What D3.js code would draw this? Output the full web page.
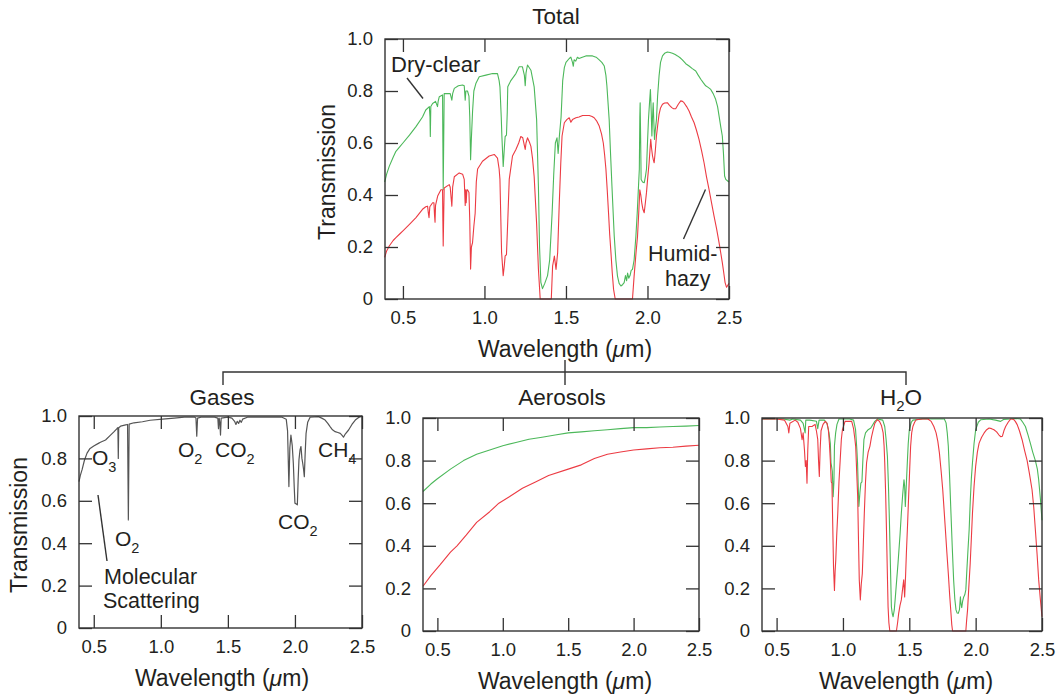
<!DOCTYPE html>
<html>
<head>
<meta charset="utf-8">
<script src="https://cdn.jsdelivr.net/npm/d3@7"></script>
<style>
  body { margin: 0; background: #fff; }
  svg { display: block; font-family: "Liberation Sans", Arial, Helvetica, sans-serif; }
  .tick text { font-size: 18.5px; fill: #231f20; }
  .tick line { stroke: #333; stroke-width: 1.3; }
  .lbl { fill: #231f20; }
</style>
</head>
<body>
<svg id="chart" width="1063" height="694"></svg>
<script>
// tick labels
var xTicks = [0.5, 1.0, 1.5, 2.0, 2.5];
var yTicks = [0, 0.2, 0.4, 0.6, 0.8, 1.0];

// Total: dry-clear (green) and humid-hazy (red), [wavelength um, transmission]
var totalDryClear = [[0.388,0.45],[0.40,0.48],[0.416,0.51],[0.44,0.545],[0.457,0.568],[0.48,0.585],[0.50,0.60],[0.54,0.63],[0.58,0.663],[0.62,0.70],[0.64,0.727],[0.662,0.74],[0.666,0.70],[0.668,0.625],[0.671,0.74],[0.682,0.752],[0.70,0.76],[0.712,0.74],[0.716,0.76],[0.723,0.778],[0.743,0.785],[0.745,0.60],[0.747,0.42],[0.750,0.60],[0.753,0.79],[0.764,0.79],[0.79,0.79],[0.80,0.765],[0.805,0.79],[0.815,0.81],[0.84,0.82],[0.866,0.823],[0.876,0.82],[0.882,0.765],[0.886,0.80],[0.896,0.80],[0.905,0.78],[0.91,0.70],[0.915,0.536],[0.92,0.62],[0.927,0.72],[0.935,0.80],[0.948,0.83],[0.968,0.855],[1.009,0.861],[1.05,0.867],[1.08,0.867],[1.09,0.84],[1.095,0.816],[1.103,0.70],[1.107,0.625],[1.115,0.51],[1.122,0.58],[1.127,0.625],[1.135,0.63],[1.14,0.72],[1.143,0.816],[1.162,0.84],[1.193,0.867],[1.213,0.893],[1.233,0.893],[1.245,0.86],[1.25,0.82],[1.255,0.87],[1.264,0.90],[1.285,0.88],[1.305,0.816],[1.32,0.69],[1.331,0.434],[1.338,0.20],[1.346,0.064],[1.356,0.04],[1.37,0.06],[1.387,0.09],[1.40,0.15],[1.415,0.33],[1.425,0.48],[1.435,0.60],[1.445,0.62],[1.452,0.56],[1.46,0.63],[1.47,0.70],[1.48,0.84],[1.49,0.89],[1.50,0.91],[1.52,0.925],[1.53,0.93],[1.54,0.91],[1.545,0.895],[1.55,0.92],[1.56,0.915],[1.57,0.93],[1.58,0.925],[1.60,0.93],[1.622,0.935],[1.663,0.935],[1.685,0.93],[1.704,0.92],[1.72,0.91],[1.735,0.896],[1.745,0.86],[1.751,0.82],[1.765,0.69],[1.772,0.58],[1.782,0.435],[1.796,0.242],[1.806,0.15],[1.816,0.088],[1.826,0.06],[1.837,0.05],[1.847,0.055],[1.857,0.063],[1.865,0.09],[1.872,0.07],[1.878,0.10],[1.885,0.08],[1.893,0.09],[1.90,0.11],[1.908,0.114],[1.918,0.15],[1.929,0.242],[1.937,0.33],[1.945,0.435],[1.95,0.50],[1.953,0.70],[1.955,0.755],[1.958,0.62],[1.961,0.46],[1.97,0.45],[1.98,0.447],[1.987,0.47],[1.994,0.50],[2.0,0.60],[2.006,0.69],[2.012,0.75],[2.018,0.806],[2.023,0.72],[2.027,0.627],[2.031,0.70],[2.035,0.755],[2.039,0.68],[2.043,0.614],[2.048,0.65],[2.055,0.69],[2.062,0.78],[2.071,0.858],[2.08,0.91],[2.092,0.935],[2.105,0.945],[2.122,0.95],[2.138,0.948],[2.153,0.945],[2.17,0.94],[2.184,0.935],[2.20,0.928],[2.214,0.92],[2.235,0.905],[2.255,0.896],[2.275,0.886],[2.296,0.877],[2.31,0.862],[2.327,0.845],[2.342,0.832],[2.357,0.82],[2.372,0.814],[2.388,0.806],[2.403,0.79],[2.418,0.768],[2.43,0.74],[2.439,0.704],[2.45,0.66],[2.459,0.627],[2.466,0.56],[2.473,0.473],[2.48,0.46],[2.49,0.455],[2.50,0.45]];
var totalHumidHazy = [[0.388,0.16],[0.40,0.185],[0.416,0.204],[0.44,0.225],[0.457,0.236],[0.48,0.25],[0.50,0.262],[0.54,0.287],[0.58,0.313],[0.62,0.345],[0.64,0.355],[0.651,0.357],[0.656,0.33],[0.66,0.313],[0.665,0.355],[0.682,0.37],[0.69,0.37],[0.694,0.32],[0.697,0.295],[0.70,0.36],[0.713,0.396],[0.733,0.42],[0.743,0.42],[0.745,0.30],[0.747,0.204],[0.750,0.32],[0.753,0.427],[0.784,0.44],[0.79,0.43],[0.80,0.357],[0.805,0.43],[0.815,0.47],[0.845,0.485],[0.866,0.48],[0.876,0.46],[0.882,0.36],[0.884,0.42],[0.888,0.37],[0.892,0.42],[0.896,0.42],[0.905,0.41],[0.91,0.30],[0.915,0.115],[0.92,0.20],[0.927,0.217],[0.935,0.28],[0.943,0.33],[0.95,0.45],[0.958,0.50],[0.988,0.53],[1.029,0.55],[1.06,0.556],[1.08,0.542],[1.09,0.50],[1.095,0.46],[1.10,0.32],[1.105,0.18],[1.115,0.09],[1.122,0.13],[1.127,0.166],[1.135,0.17],[1.143,0.30],[1.152,0.46],[1.172,0.55],[1.193,0.575],[1.21,0.60],[1.223,0.625],[1.235,0.62],[1.245,0.59],[1.25,0.575],[1.255,0.60],[1.264,0.62],[1.275,0.605],[1.285,0.587],[1.295,0.54],[1.305,0.47],[1.32,0.29],[1.331,0.115],[1.342,0.0],[1.41,0.0],[1.418,0.127],[1.429,0.165],[1.439,0.114],[1.449,0.178],[1.459,0.37],[1.468,0.52],[1.476,0.627],[1.49,0.678],[1.505,0.69],[1.52,0.697],[1.53,0.68],[1.54,0.69],[1.561,0.697],[1.58,0.70],[1.602,0.706],[1.643,0.706],[1.66,0.702],[1.673,0.697],[1.69,0.683],[1.704,0.665],[1.718,0.635],[1.729,0.60],[1.737,0.555],[1.745,0.50],[1.753,0.42],[1.761,0.332],[1.768,0.25],[1.776,0.178],[1.784,0.10],[1.792,0.037],[1.802,0.0],[1.908,0.0],[1.918,0.088],[1.93,0.18],[1.939,0.242],[1.947,0.34],[1.953,0.42],[1.959,0.40],[1.965,0.37],[1.972,0.345],[1.98,0.332],[1.987,0.37],[1.994,0.41],[2.002,0.47],[2.01,0.524],[2.015,0.57],[2.02,0.614],[2.025,0.58],[2.031,0.55],[2.036,0.535],[2.041,0.524],[2.048,0.57],[2.055,0.627],[2.063,0.67],[2.071,0.71],[2.08,0.735],[2.092,0.749],[2.105,0.754],[2.122,0.755],[2.135,0.745],[2.149,0.736],[2.16,0.732],[2.173,0.732],[2.19,0.75],[2.204,0.762],[2.215,0.76],[2.224,0.755],[2.24,0.74],[2.255,0.723],[2.27,0.70],[2.286,0.678],[2.30,0.65],[2.316,0.614],[2.332,0.57],[2.347,0.524],[2.362,0.47],[2.378,0.42],[2.393,0.37],[2.408,0.32],[2.424,0.27],[2.439,0.217],[2.45,0.175],[2.459,0.14],[2.468,0.10],[2.476,0.063],[2.485,0.045],[2.50,0.06]];

// Gases
var gases = [[0.39,0.69],[0.40,0.72],[0.413,0.747],[0.43,0.79],[0.45,0.825],[0.47,0.845],[0.50,0.858],[0.538,0.872],[0.55,0.876],[0.588,0.887],[0.625,0.91],[0.65,0.925],[0.675,0.942],[0.68,0.945],[0.683,0.80],[0.686,0.945],[0.70,0.952],[0.738,0.958],[0.752,0.96],[0.758,0.51],[0.764,0.962],[0.80,0.968],[0.863,0.973],[0.92,0.98],[1.013,0.985],[1.10,0.99],[1.175,0.995],[1.25,0.995],[1.262,0.99],[1.268,0.905],[1.274,0.99],[1.30,0.995],[1.40,0.995],[1.425,0.99],[1.43,0.94],[1.435,0.99],[1.44,0.97],[1.445,0.91],[1.45,0.99],[1.50,0.995],[1.53,0.99],[1.55,0.975],[1.56,0.96],[1.57,0.975],[1.58,0.965],[1.59,0.98],[1.60,0.97],[1.61,0.985],[1.65,0.995],[1.90,0.995],[1.935,0.985],[1.945,0.93],[1.955,0.667],[1.962,0.85],[1.97,0.91],[1.98,0.86],[1.988,0.777],[1.995,0.66],[2.0,0.589],[2.01,0.585],[2.018,0.581],[2.024,0.70],[2.03,0.793],[2.038,0.84],[2.045,0.856],[2.052,0.80],[2.058,0.777],[2.064,0.75],[2.07,0.714],[2.076,0.82],[2.083,0.918],[2.095,0.97],[2.113,0.994],[2.175,0.997],[2.20,0.99],[2.225,0.981],[2.245,0.965],[2.262,0.95],[2.28,0.935],[2.30,0.926],[2.32,0.922],[2.338,0.918],[2.35,0.91],[2.362,0.90],[2.375,0.915],[2.40,0.934],[2.425,0.96],[2.45,0.981],[2.475,0.993],[2.50,1.0]];

// Aerosols
var aerosolDry = [[0.39,0.655],[0.45,0.69],[0.50,0.715],[0.60,0.76],[0.70,0.80],[0.80,0.83],[0.90,0.85],[1.0,0.87],[1.10,0.885],[1.20,0.90],[1.30,0.91],[1.40,0.92],[1.50,0.93],[1.60,0.935],[1.70,0.94],[1.80,0.945],[1.90,0.95],[2.0,0.955],[2.10,0.955],[2.20,0.958],[2.30,0.96],[2.40,0.962],[2.50,0.965]];
var aerosolHumid = [[0.39,0.21],[0.45,0.26],[0.52,0.31],[0.60,0.37],[0.65,0.40],[0.72,0.45],[0.80,0.51],[0.90,0.56],[0.97,0.60],[1.05,0.63],[1.15,0.67],[1.25,0.70],[1.35,0.73],[1.50,0.76],[1.60,0.78],[1.70,0.81],[1.80,0.83],[1.90,0.84],[2.0,0.85],[2.10,0.855],[2.20,0.86],[2.30,0.863],[2.40,0.868],[2.50,0.872]];

// H2O
var waterDry = [[0.39,0.995],[0.55,0.995],[0.60,0.99],[0.62,0.995],[0.68,0.99],[0.70,0.975],[0.715,0.93],[0.72,0.99],[0.75,0.99],[0.80,0.985],[0.81,0.95],[0.82,0.99],[0.86,0.99],[0.88,0.975],[0.895,0.93],[0.905,0.88],[0.91,0.79],[0.92,0.75],[0.926,0.63],[0.932,0.70],[0.936,0.87],[0.945,0.93],[0.955,0.97],[0.97,0.995],[1.05,0.995],[1.08,0.99],[1.095,0.945],[1.105,0.85],[1.11,0.79],[1.116,0.66],[1.12,0.585],[1.128,0.65],[1.135,0.694],[1.143,0.70],[1.15,0.80],[1.158,0.898],[1.17,0.93],[1.19,0.945],[1.21,0.953],[1.24,0.984],[1.26,0.995],[1.30,0.99],[1.315,0.96],[1.325,0.90],[1.335,0.82],[1.343,0.68],[1.35,0.52],[1.358,0.30],[1.365,0.114],[1.372,0.08],[1.378,0.067],[1.387,0.10],[1.395,0.16],[1.405,0.24],[1.415,0.318],[1.43,0.45],[1.44,0.553],[1.45,0.64],[1.46,0.71],[1.465,0.68],[1.47,0.585],[1.477,0.68],[1.485,0.79],[1.492,0.88],[1.50,0.945],[1.515,0.98],[1.527,0.99],[1.60,0.995],[1.764,0.995],[1.777,0.977],[1.786,0.93],[1.794,0.867],[1.804,0.72],[1.814,0.553],[1.824,0.39],[1.834,0.24],[1.843,0.15],[1.852,0.099],[1.86,0.085],[1.869,0.083],[1.878,0.10],[1.885,0.16],[1.889,0.13],[1.895,0.11],[1.902,0.14],[1.91,0.16],[1.918,0.17],[1.926,0.193],[1.935,0.30],[1.943,0.39],[1.951,0.475],[1.96,0.62],[1.968,0.72],[1.976,0.79],[1.988,0.88],[2.0,0.945],[2.02,0.98],[2.039,0.992],[2.10,0.995],[2.15,0.99],[2.188,0.984],[2.21,0.993],[2.26,0.995],[2.30,0.998],[2.338,0.995],[2.355,0.98],[2.375,0.96],[2.395,0.92],[2.413,0.88],[2.43,0.84],[2.45,0.80],[2.465,0.76],[2.475,0.71],[2.488,0.62],[2.50,0.52]];
var waterHumid = [[0.39,0.995],[0.50,0.995],[0.56,0.99],[0.585,0.96],[0.592,0.93],[0.60,0.975],[0.64,0.99],[0.66,0.98],[0.68,0.95],[0.692,0.898],[0.70,0.93],[0.71,0.85],[0.717,0.773],[0.723,0.80],[0.729,0.694],[0.735,0.85],[0.742,0.96],[0.767,0.96],[0.79,0.97],[0.80,0.94],[0.81,0.90],[0.816,0.80],[0.822,0.726],[0.828,0.85],[0.835,0.94],[0.85,0.97],[0.867,0.984],[0.88,0.975],[0.89,0.945],[0.898,0.88],[0.905,0.80],[0.912,0.70],[0.917,0.694],[0.923,0.50],[0.929,0.30],[0.936,0.19],[0.941,0.28],[0.946,0.334],[0.953,0.45],[0.961,0.553],[0.97,0.70],[0.979,0.80],[0.988,0.90],[0.996,0.945],[1.016,0.984],[1.066,0.984],[1.08,0.95],[1.09,0.90],[1.096,0.867],[1.104,0.74],[1.111,0.632],[1.117,0.43],[1.123,0.24],[1.131,0.146],[1.138,0.22],[1.146,0.27],[1.153,0.40],[1.161,0.553],[1.17,0.70],[1.178,0.79],[1.19,0.84],[1.203,0.867],[1.215,0.91],[1.228,0.945],[1.24,0.975],[1.258,0.992],[1.275,0.985],[1.29,0.965],[1.303,0.93],[1.31,0.87],[1.315,0.79],[1.322,0.64],[1.328,0.475],[1.334,0.29],[1.34,0.114],[1.346,0.04],[1.353,0.0],[1.403,0.0],[1.412,0.04],[1.42,0.083],[1.43,0.12],[1.44,0.146],[1.45,0.20],[1.458,0.24],[1.465,0.16],[1.472,0.26],[1.478,0.365],[1.487,0.50],[1.495,0.632],[1.503,0.76],[1.51,0.867],[1.518,0.93],[1.527,0.96],[1.54,0.98],[1.552,0.992],[1.60,0.995],[1.64,0.995],[1.665,0.984],[1.685,0.96],[1.702,0.93],[1.715,0.89],[1.727,0.835],[1.74,0.75],[1.752,0.663],[1.762,0.57],[1.772,0.475],[1.783,0.37],[1.794,0.27],[1.804,0.17],[1.814,0.083],[1.82,0.03],[1.826,0.0],[1.926,0.0],[1.932,0.05],[1.939,0.099],[1.948,0.20],[1.959,0.318],[1.968,0.44],[1.976,0.553],[1.988,0.68],[2.0,0.773],[2.013,0.84],[2.026,0.882],[2.045,0.91],[2.064,0.93],[2.083,0.945],[2.101,0.953],[2.12,0.95],[2.138,0.945],[2.158,0.935],[2.176,0.92],[2.19,0.912],[2.201,0.914],[2.213,0.94],[2.226,0.96],[2.245,0.98],[2.263,0.995],[2.275,0.995],[2.288,0.992],[2.30,0.983],[2.313,0.969],[2.33,0.94],[2.35,0.898],[2.37,0.845],[2.388,0.80],[2.405,0.74],[2.425,0.663],[2.438,0.58],[2.45,0.475],[2.463,0.36],[2.475,0.24],[2.488,0.146],[2.50,0.067]];

var GREEN = "#4cb85a", RED = "#ec3b43", INK = "#231f20";

var svg = d3.select("#chart");

var yFmt = function(d){ return d === 0 ? "0" : d3.format(".1f")(d); };

var makePanel = function(box, series)
{
    var x = d3.scaleLinear().domain([0.39, 2.5]).range([box.left, box.right]);
    var y = d3.scaleLinear().domain([0, 1]).range([box.bottom, box.top]);
    var g = svg.append("g");

    var line = d3.line()
        .x(function(d){ return x(d[0]); })
        .y(function(d){ return y(d[1]); });

    series.forEach(function(s){
        g.append("path")
            .datum(s.data)
            .attr("fill", "none")
            .attr("stroke", s.color)
            .attr("stroke-width", s.width || 1.1)
            .attr("stroke-linejoin", "round")
            .attr("d", line);
    });

    // inward ticks on all four sides
    g.append("g").attr("transform", "translate(0," + box.bottom + ")")
        .call(d3.axisBottom(x).tickValues(xTicks).tickSize(-13).tickSizeOuter(0)
            .tickPadding(12).tickFormat(d3.format(".1f")));
    g.append("g").attr("transform", "translate(0," + box.top + ")")
        .call(d3.axisTop(x).tickValues(xTicks).tickSize(-13).tickSizeOuter(0).tickFormat(""));
    g.append("g").attr("transform", "translate(" + box.left + ",0)")
        .call(d3.axisLeft(y).tickValues(yTicks).tickSize(-13).tickSizeOuter(0)
            .tickPadding(12).tickFormat(yFmt));
    g.append("g").attr("transform", "translate(" + box.right + ",0)")
        .call(d3.axisRight(y).tickValues(yTicks).tickSize(-13).tickSizeOuter(0).tickFormat(""));
    g.selectAll(".domain").remove();
    g.selectAll(".tick text").attr("font-family", null);

    g.append("rect")
        .attr("x", box.left).attr("y", box.top)
        .attr("width", box.right - box.left).attr("height", box.bottom - box.top)
        .attr("fill", "none").attr("stroke", "#333").attr("stroke-width", 1.4);

    // x axis title
    var xt = g.append("text").attr("class", "lbl")
        .attr("x", box.xTitleX).attr("y", box.bottom + 58)
        .attr("text-anchor", "middle").attr("font-size", 23);
    xt.append("tspan").text("Wavelength (");
    xt.append("tspan").attr("font-style", "italic").text("\u03bc");
    xt.append("tspan").text("m)");

    return {x: x, y: y, g: g};
}

// Top panel: Total
var top = makePanel({left:385, right:729, top:39, bottom:299, xTitleX:565},
    [{data: totalDryClear, color: GREEN}, {data: totalHumidHazy, color: RED}]);

svg.append("text").attr("class","lbl").attr("x",556).attr("y",24)
    .attr("text-anchor","middle").attr("font-size",22.5).text("Total");
svg.append("text").attr("class","lbl").attr("font-size",23).attr("text-anchor","middle")
    .attr("transform","translate(335,172) rotate(-90)").text("Transmission");

svg.append("text").attr("class","lbl").attr("x",391).attr("y",72).attr("font-size",22).text("Dry-clear");
svg.append("line").attr("x1",407).attr("y1",78).attr("x2",423).attr("y2",98.5)
    .attr("stroke","#333").attr("stroke-width",1.4);
svg.append("text").attr("class","lbl").attr("x",648).attr("y",260.5).attr("font-size",21.5).text("Humid-");
svg.append("text").attr("class","lbl").attr("x",665).attr("y",285.5).attr("font-size",21.5).text("hazy");
svg.append("line").attr("x1",683.5).attr("y1",239).attr("x2",705.5).attr("y2",189.5)
    .attr("stroke","#333").attr("stroke-width",1.4);

// connector tree
svg.append("path").attr("d","M223,385V372H906V385M565,360V385")
    .attr("fill","none").attr("stroke","#333").attr("stroke-width",1.4);

// Bottom panels
var pg = makePanel({left:79, right:362, top:416, bottom:628, xTitleX:222},
    [{data: gases, color: "#555", width: 1.2}]);
pg.g.selectAll(".tick text").filter(function(d){ return d === 0 && this.textContent === "0"; })
    .attr("font-size", 15.5);
var pa = makePanel({left:423, right:699, top:418, bottom:631, xTitleX:565},
    [{data: aerosolDry, color: GREEN}, {data: aerosolHumid, color: RED}]);
var pw = makePanel({left:762, right:1042, top:418, bottom:631, xTitleX:906},
    [{data: waterDry, color: GREEN}, {data: waterHumid, color: RED}]);

svg.append("text").attr("class","lbl").attr("x",222).attr("y",405)
    .attr("text-anchor","middle").attr("font-size",22.5).text("Gases");
svg.append("text").attr("class","lbl").attr("x",562).attr("y",405)
    .attr("text-anchor","middle").attr("font-size",22.5).text("Aerosols");
var h2o = svg.append("text").attr("class","lbl").attr("x",901).attr("y",405)
    .attr("text-anchor","middle").attr("font-size",22.5);
h2o.append("tspan").text("H");
h2o.append("tspan").attr("font-size",15).attr("dy",6).text("2");
h2o.append("tspan").attr("dy",-6).text("O");

svg.append("text").attr("class","lbl").attr("font-size",23).attr("text-anchor","middle")
    .attr("transform","translate(27,525) rotate(-90)").text("Transmission");

// gas band labels
var chem = function(x, y, base, sub)
{
    var t = svg.append("text").attr("class","lbl").attr("x",x).attr("y",y).attr("font-size",21);
    t.append("tspan").text(base);
    t.append("tspan").attr("font-size",14.5).attr("dy",7).text(sub);
}
chem(92, 465, "O", "3");
chem(115, 546, "O", "2");
chem(178, 457, "O", "2");
chem(215, 457, "CO", "2");
chem(318, 457, "CH", "4");
chem(278, 529, "CO", "2");

svg.append("text").attr("class","lbl").attr("x",104).attr("y",584).attr("font-size",21.5).text("Molecular");
svg.append("text").attr("class","lbl").attr("x",103).attr("y",608).attr("font-size",21.5).text("Scattering");
svg.append("line").attr("x1",98).attr("y1",495).attr("x2",107).attr("y2",561)
    .attr("stroke","#333").attr("stroke-width",1.4);
</script>
</body>
</html>
